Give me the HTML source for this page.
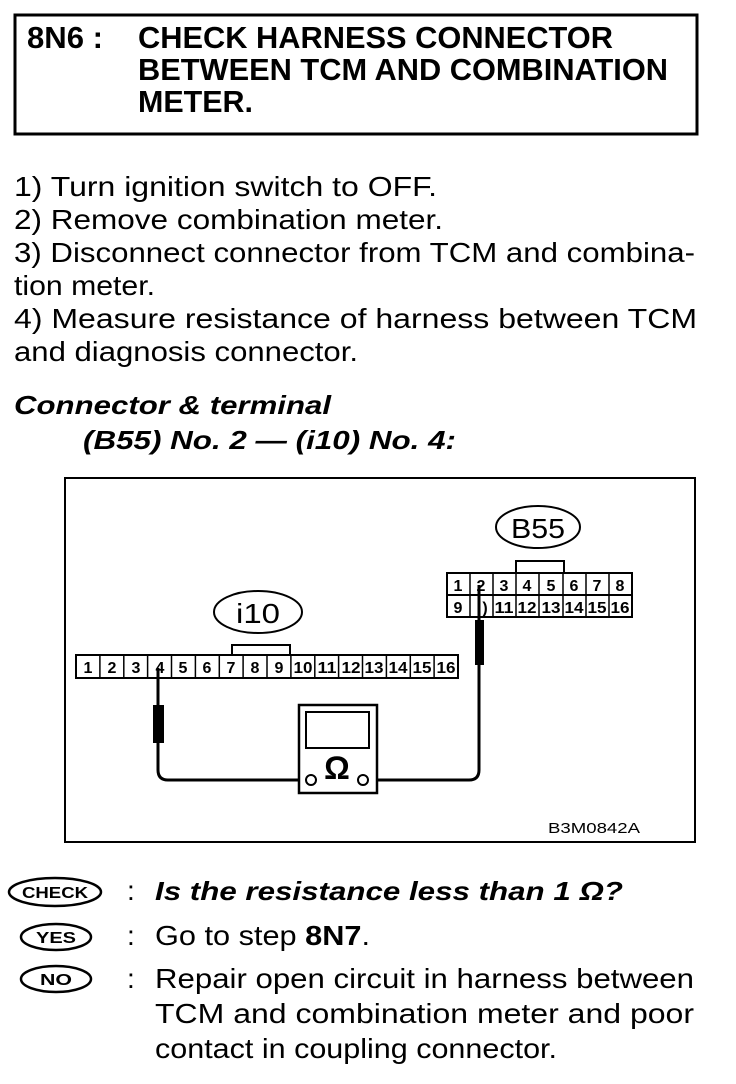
<!DOCTYPE html>
<html><head><meta charset="utf-8"><style>
html,body{margin:0;padding:0;background:#fff;}
svg{display:block;}
text{font-family:"Liberation Sans",sans-serif;fill:#000;}
.h{font-size:31px;font-weight:bold;}
.b{font-size:28px;}
.bi{font-size:26px;font-weight:bold;font-style:italic;}
.c{font-size:16px;text-anchor:middle;font-weight:bold;}
</style></head><body>
<svg width="736" height="1084" viewBox="0 0 736 1084" xmlns="http://www.w3.org/2000/svg">
<rect x="15" y="15" width="682" height="119" fill="none" stroke="#000" stroke-width="3"/>
<text class="h" x="27" y="48" textLength="76" lengthAdjust="spacingAndGlyphs">8N6 :</text>
<text class="h" x="138" y="48" textLength="475" lengthAdjust="spacingAndGlyphs">CHECK HARNESS CONNECTOR</text>
<text class="h" x="138" y="80" textLength="530" lengthAdjust="spacingAndGlyphs">BETWEEN TCM AND COMBINATION</text>
<text class="h" x="138" y="112" textLength="115" lengthAdjust="spacingAndGlyphs">METER.</text>

<text class="b" x="14" y="196" textLength="423" lengthAdjust="spacingAndGlyphs">1)  Turn ignition switch to OFF.</text>
<text class="b" x="14" y="229" textLength="429" lengthAdjust="spacingAndGlyphs">2)  Remove combination meter.</text>
<text class="b" x="14" y="262" textLength="681" lengthAdjust="spacingAndGlyphs">3)  Disconnect connector from TCM and combina-</text>
<text class="b" x="14" y="295" textLength="141" lengthAdjust="spacingAndGlyphs">tion meter.</text>
<text class="b" x="14" y="328" textLength="683" lengthAdjust="spacingAndGlyphs">4)  Measure resistance of harness between TCM</text>
<text class="b" x="14" y="361" textLength="344" lengthAdjust="spacingAndGlyphs">and diagnosis connector.</text>
<text class="bi" x="14" y="414" textLength="317" lengthAdjust="spacingAndGlyphs">Connector &amp; terminal</text>
<text class="bi" x="83" y="449" textLength="373" lengthAdjust="spacingAndGlyphs">(B55) No. 2 — (i10) No. 4:</text>

<rect x="65" y="478" width="630" height="364" fill="none" stroke="#000" stroke-width="2"/>
<ellipse cx="258" cy="612" rx="44" ry="21" fill="none" stroke="#000" stroke-width="2"/>
<text x="258" y="623" font-size="28" text-anchor="middle" textLength="44" lengthAdjust="spacingAndGlyphs">i10</text>
<rect x="232" y="645" width="58" height="10" fill="none" stroke="#000" stroke-width="2"/>
<rect x="76" y="655" width="382" height="23" fill="none" stroke="#000" stroke-width="2"/>
<ellipse cx="538" cy="527" rx="42" ry="21" fill="none" stroke="#000" stroke-width="2"/>
<text x="538" y="538" font-size="28" text-anchor="middle" textLength="54" lengthAdjust="spacingAndGlyphs">B55</text>
<rect x="516" y="561" width="48" height="12" fill="none" stroke="#000" stroke-width="2"/>
<rect x="447" y="573" width="185" height="44" fill="none" stroke="#000" stroke-width="2"/>
<line x1="447" y1="595" x2="632" y2="595" stroke="#000" stroke-width="2"/>

<path d="M158 668 V770 Q158 780 168 780 H306" fill="none" stroke="#000" stroke-width="3"/>
<rect x="153" y="705" width="11" height="38" fill="#000"/>
<path d="M479 585 V770 Q479 780 469 780 H369" fill="none" stroke="#000" stroke-width="3"/>
<rect x="475" y="620" width="9" height="45" fill="#000"/>
<rect x="299" y="705" width="78" height="88" fill="#fff" stroke="#000" stroke-width="2.5"/>
<rect x="306" y="712" width="63" height="36" fill="none" stroke="#000" stroke-width="2"/>
<text x="337" y="779" font-size="32" font-weight="bold" text-anchor="middle">Ω</text>
<circle cx="311" cy="780" r="5" fill="#fff" stroke="#000" stroke-width="2"/>
<circle cx="363" cy="780" r="5" fill="#fff" stroke="#000" stroke-width="2"/>
<text x="548" y="833" font-size="15" textLength="92" lengthAdjust="spacingAndGlyphs">B3M0842A</text>

<g stroke="#000" stroke-width="1.5">
<line x1="99.9" y1="655" x2="99.9" y2="678"/><line x1="123.8" y1="655" x2="123.8" y2="678"/><line x1="147.6" y1="655" x2="147.6" y2="678"/><line x1="171.5" y1="655" x2="171.5" y2="678"/><line x1="195.4" y1="655" x2="195.4" y2="678"/><line x1="219.3" y1="655" x2="219.3" y2="678"/><line x1="243.1" y1="655" x2="243.1" y2="678"/><line x1="267" y1="655" x2="267" y2="678"/><line x1="290.9" y1="655" x2="290.9" y2="678"/><line x1="314.8" y1="655" x2="314.8" y2="678"/><line x1="338.6" y1="655" x2="338.6" y2="678"/><line x1="362.5" y1="655" x2="362.5" y2="678"/><line x1="386.4" y1="655" x2="386.4" y2="678"/><line x1="410.3" y1="655" x2="410.3" y2="678"/><line x1="434.1" y1="655" x2="434.1" y2="678"/>
</g>
<g>
<text class="c" x="88" y="673">1</text><text class="c" x="112" y="673">2</text><text class="c" x="136" y="673">3</text><text class="c" x="160" y="673">4</text><text class="c" x="183" y="673">5</text><text class="c" x="207" y="673">6</text><text class="c" x="231" y="673">7</text><text class="c" x="255" y="673">8</text><text class="c" x="279" y="673">9</text><text class="c" x="303" y="673" textLength="19" lengthAdjust="spacingAndGlyphs">10</text><text class="c" x="327" y="673" textLength="19" lengthAdjust="spacingAndGlyphs">11</text><text class="c" x="351" y="673" textLength="19" lengthAdjust="spacingAndGlyphs">12</text><text class="c" x="374" y="673" textLength="19" lengthAdjust="spacingAndGlyphs">13</text><text class="c" x="398" y="673" textLength="19" lengthAdjust="spacingAndGlyphs">14</text><text class="c" x="422" y="673" textLength="19" lengthAdjust="spacingAndGlyphs">15</text><text class="c" x="446" y="673" textLength="19" lengthAdjust="spacingAndGlyphs">16</text>
</g>
<g stroke="#000" stroke-width="1.5">
<line x1="470" y1="573" x2="470" y2="617"/><line x1="493" y1="573" x2="493" y2="617"/><line x1="516" y1="573" x2="516" y2="617"/><line x1="539" y1="573" x2="539" y2="617"/><line x1="563" y1="573" x2="563" y2="617"/><line x1="586" y1="573" x2="586" y2="617"/><line x1="609" y1="573" x2="609" y2="617"/>
</g>
<g>
<text class="c" font-size="17" x="458" y="591">1</text><text class="c" font-size="17" x="481" y="591">2</text><text class="c" font-size="17" x="504" y="591">3</text><text class="c" font-size="17" x="527" y="591">4</text><text class="c" font-size="17" x="551" y="591">5</text><text class="c" font-size="17" x="574" y="591">6</text><text class="c" font-size="17" x="597" y="591">7</text><text class="c" font-size="17" x="620" y="591">8</text>
<text class="c" font-size="17" x="458" y="613">9</text><text class="c" x="485" y="613">)</text><text class="c" x="504" y="613" textLength="19" lengthAdjust="spacingAndGlyphs">11</text><text class="c" x="527" y="613" textLength="19" lengthAdjust="spacingAndGlyphs">12</text><text class="c" x="551" y="613" textLength="19" lengthAdjust="spacingAndGlyphs">13</text><text class="c" x="574" y="613" textLength="19" lengthAdjust="spacingAndGlyphs">14</text><text class="c" x="597" y="613" textLength="19" lengthAdjust="spacingAndGlyphs">15</text><text class="c" x="620" y="613" textLength="19" lengthAdjust="spacingAndGlyphs">16</text>
</g>

<ellipse cx="55" cy="892" rx="46" ry="14" fill="none" stroke="#000" stroke-width="2.5"/>
<text x="55" y="898" font-size="16" font-weight="bold" text-anchor="middle" textLength="66" lengthAdjust="spacingAndGlyphs">CHECK</text>
<ellipse cx="56" cy="937" rx="35" ry="13" fill="none" stroke="#000" stroke-width="2.5"/>
<text x="56" y="943" font-size="16" font-weight="bold" text-anchor="middle" textLength="40" lengthAdjust="spacingAndGlyphs">YES</text>
<ellipse cx="56" cy="979" rx="35" ry="13" fill="none" stroke="#000" stroke-width="2.5"/>
<text x="56" y="985" font-size="16" font-weight="bold" text-anchor="middle" textLength="32" lengthAdjust="spacingAndGlyphs">NO</text>
<text class="b" x="127" y="900">:</text>
<text class="b" x="127" y="945">:</text>
<text class="b" x="127" y="988">:</text>
<text class="bi" x="155" y="900" font-size="28" textLength="468" lengthAdjust="spacingAndGlyphs">Is the resistance less than 1 Ω?</text>
<text class="b" x="155" y="945" textLength="215" lengthAdjust="spacingAndGlyphs">Go to step <tspan font-weight="bold">8N7</tspan>.</text>
<text class="b" x="155" y="988" textLength="539" lengthAdjust="spacingAndGlyphs">Repair open circuit in harness between</text>
<text class="b" x="155" y="1023" textLength="539" lengthAdjust="spacingAndGlyphs">TCM and combination meter and poor</text>
<text class="b" x="155" y="1058" textLength="402" lengthAdjust="spacingAndGlyphs">contact in coupling connector.</text>
</svg>
</body></html>
